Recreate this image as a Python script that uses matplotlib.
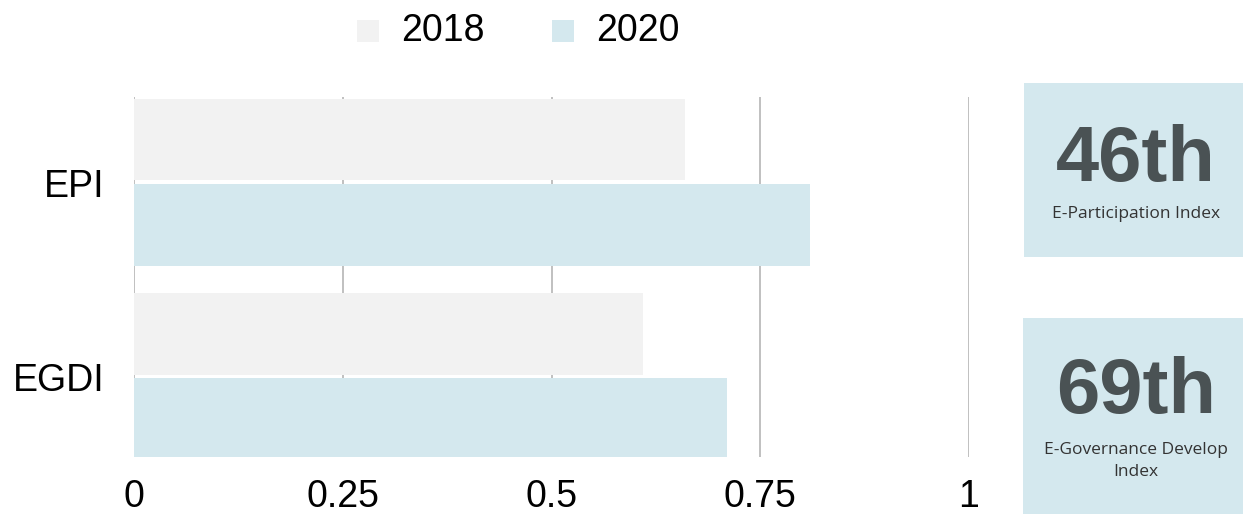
import matplotlib
matplotlib.use("Agg")
import matplotlib.pyplot as plt
from matplotlib.patches import Rectangle
import numpy as np

categories = ["EPI", "EGDI"]
years = ["2018", "2020"]
values_2018 = [0.66, 0.61]
values_2020 = [0.81, 0.71]
xticks = [0, 0.25, 0.5, 0.75, 1]
xtick_labels = ["0", "0.25", "0.5", "0.75", "1"]
ranks = ["46th", "69th"]
rank_labels = ["E-Participation Index", "E-Governance Develop\nIndex"]

c2018 = "#f2f2f2"
c2020 = "#d4e8ee"
colors = [c2018, c2020]

W, H = 1243, 514
fig = plt.figure(figsize=(W / 100, H / 100), dpi=100)
ax = fig.add_axes([134 / W, (H - 457) / H, (969 - 134) / W, (457 - 97) / H])

y = np.arange(len(categories))
bh = 0.42
ax.barh(y - 0.225, values_2018, height=bh, color=c2018, zorder=2)
ax.barh(y + 0.215, values_2020, height=bh, color=c2020, zorder=2)

ax.set_xlim(0, 1)
ax.set_ylim(1.41, -0.445)
ax.set_xticks(xticks)
ax.set_xticklabels(xtick_labels)
ax.set_yticks(y)
ax.set_yticklabels(categories)
for s in ax.spines.values():
    s.set_visible(False)
ax.grid(axis="x", color="#c0c0c0", linewidth=1.4, zorder=0)
ax.grid(axis="y", visible=False)
ax.set_axisbelow(True)
ax.tick_params(axis="both", length=0, labelsize=27, labelcolor="#000000")
ax.tick_params(axis="x", pad=16)
ax.tick_params(axis="y", pad=21)
for lab in ax.get_xticklabels() + ax.get_yticklabels():
    lab.set_fontfamily("Liberation Sans")

# legend
leg_x = [357, 552]
for i, yr in enumerate(years):
    fig.patches.append(Rectangle((leg_x[i] / W, (H - 42) / H), 22 / W, 22 / H,
                                 transform=fig.transFigure, facecolor=colors[i],
                                 edgecolor="none"))
    fig.text((leg_x[i] + 44) / W, (H - 31) / H, yr, fontsize=27,
             family="Liberation Sans", va="center", ha="left", color="#000000")

# rank boxes
boxes = [(1024, 83, 257), (1023, 318, 514)]
num_y = [160, 393]
lab_y = [214, 461]
for i in range(2):
    x0, top, bot = boxes[i]
    fig.patches.append(Rectangle((x0 / W, (H - bot) / H), (W - x0) / W, (bot - top) / H,
                                 transform=fig.transFigure, facecolor=c2020,
                                 edgecolor="none"))
    fig.text(1136 / W, (H - num_y[i]) / H, ranks[i], fontsize=56, fontweight="bold",
             family="Liberation Sans", color="#4a5254", ha="center", va="center")
    fig.text(1136 / W, (H - lab_y[i]) / H, rank_labels[i], fontsize=12.5,
             family="Open Sans", color="#333333", ha="center", va="center",
             linespacing=1.45)

fig.savefig("out.png", dpi=100)
